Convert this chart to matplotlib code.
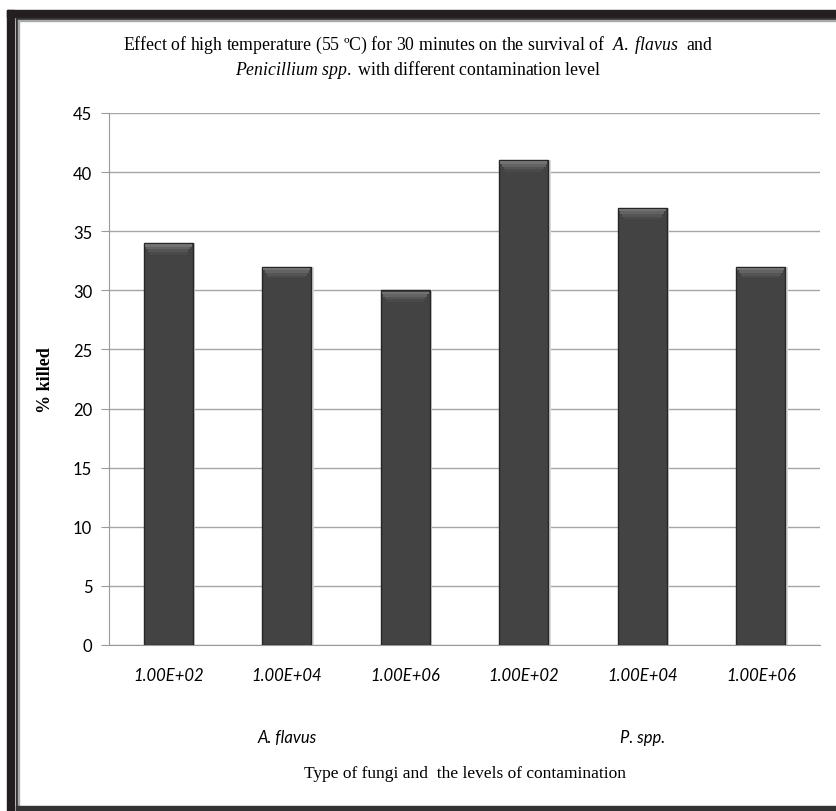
import matplotlib
matplotlib.use('Agg')
import matplotlib.pyplot as plt
import numpy as np
from matplotlib.patches import Rectangle

# data
levels = ['1.00E+02', '1.00E+04', '1.00E+06', '1.00E+02', '1.00E+04', '1.00E+06']
killed = [34, 32, 30, 41, 37, 32]
groups = ['A. flavus', 'P. spp.']
group_pos = [1, 4]
yticks = [0, 5, 10, 15, 20, 25, 30, 35, 40, 45]

plt.rcParams['mathtext.fontset'] = 'custom'
plt.rcParams['mathtext.rm'] = 'Liberation Serif'
plt.rcParams['mathtext.it'] = 'Liberation Serif:italic'

W, H = 837, 812
fig = plt.figure(figsize=(W / 100, H / 100), dpi=100)

# frame around the chart (left, top, bottom only, right side is cropped)
def px_rect(x, y, w, h, color):
    fig.patches.append(Rectangle((x / W, 1 - (y + h) / H), w / W, h / H,
                                 transform=fig.transFigure, color=color, zorder=0))

px_rect(7, 11, W - 7, 7, '#231f20')
px_rect(7, 11, 7, H - 11, '#231f20')
px_rect(16, 19, W - 16, 2, '#333333')
px_rect(16, 19, 2, H - 19, '#333333')
px_rect(18, 21, W - 18, 1, '#aaaaaa')
px_rect(18, 21, 1, H - 21, '#aaaaaa')
px_rect(16, 807, W - 16, 5, '#333333')

ax = fig.add_axes([109 / W, 166 / H, (820 - 109) / W, (646 - 114) / H])
x = np.arange(len(killed))
# soft shadow behind the bars
ax.bar(x + 0.012, killed, width=0.43, color='#d8d8d8', linewidth=0, zorder=2)
ax.bar(x, killed, width=0.41, color='#424342', edgecolor='#262626', linewidth=1.0, zorder=3)
# bevel on top of the bars, fading from light to the bar colour
top = np.array(killed)
for i, c in enumerate(['#727272', '#636363', '#555555', '#4a4a4a']):
    ax.bar(x, [0.22] * len(killed), bottom=top - 0.1 - 0.22 * (i + 1), width=0.40 - 0.03 * i,
           color=c, linewidth=0, zorder=4 + i * 0)

ax.set_xlim(-0.5, len(killed) - 0.5)
ax.set_ylim(0, 45)
ax.set_yticks(yticks)
ax.yaxis.grid(True, color='#a6a6a6', linewidth=1.0, zorder=0)
ax.set_axisbelow(True)
for s in ['top', 'right']:
    ax.spines[s].set_visible(False)
ax.spines['left'].set_color('#9a9a9a')
ax.spines['bottom'].set_color('#9a9a9a')
ax.tick_params(axis='y', length=6, color='#9a9a9a', labelsize=12, pad=6)
ax.tick_params(axis='x', length=0, pad=16)
for lab in ax.get_yticklabels():
    lab.set_fontfamily('Lato')
ax.set_xticks(x)
ax.set_xticklabels(levels, fontfamily='Lato', fontstyle='italic', fontsize=12)

for g, p in zip(groups, group_pos):
    ax.text(p, -7.8, g, ha='center', va='center', fontfamily='Lato',
            fontstyle='italic', fontsize=12)

ax.text(2.5, -10.8, 'Type of fungi and  the levels of contamination', ha='center',
        va='center', fontfamily='Liberation Serif', fontsize=12.5)

ax.set_ylabel('% killed', fontfamily='Liberation Serif', fontweight='bold',
              fontsize=13, labelpad=14)

fig.text(0.5, 1 - 45 / H,
         r'Effect of high temperature (55 ºC) for 30 minutes on the survival of  $A.$ $flavus$  and',
         ha='center', va='center', fontfamily='Liberation Serif', fontsize=12.8)
fig.text(0.5, 1 - 70 / H, r'$Penicillium$ $spp.$ with different contamination level',
         ha='center', va='center', fontfamily='Liberation Serif', fontsize=12.8)

fig.savefig('out.png', dpi=100)
